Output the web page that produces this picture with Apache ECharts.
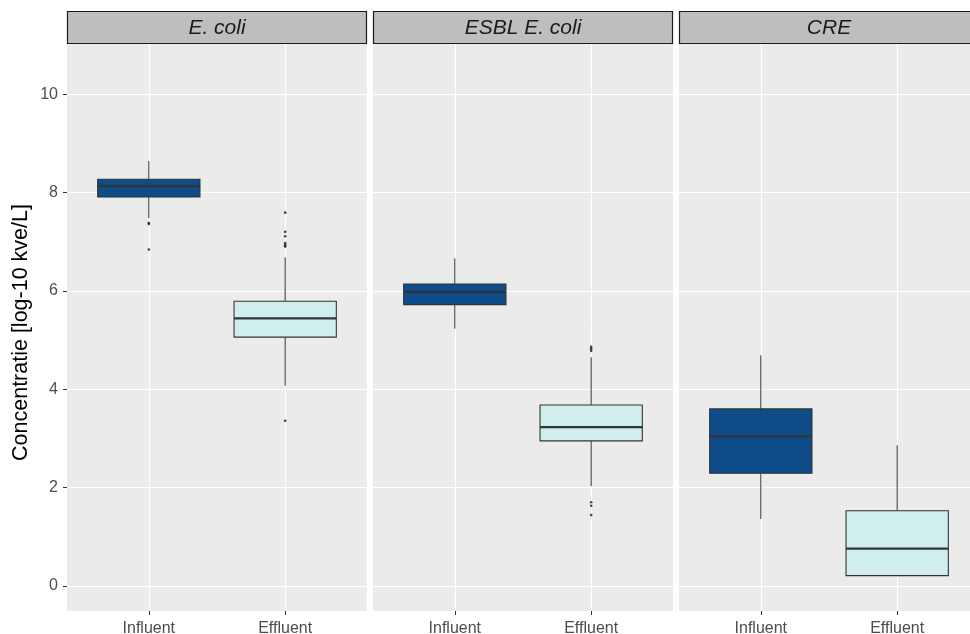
<!DOCTYPE html>
<html><head><meta charset="utf-8">
<script src="https://cdn.jsdelivr.net/npm/echarts@6/dist/echarts.min.js"></script>
<style>html,body{margin:0;padding:0;background:#fff}#c{width:970px;height:634px}</style>
</head><body><div id="c"></div>
<script>
const categories = ['Influent', 'Effluent'];
const panels = ['E. coli', 'ESBL E. coli', 'CRE'];
const yTicks = [0, 2, 4, 6, 8, 10];
const yTitle = 'Concentratie [log-10 kve/L]';

// [lower whisker, Q1, median, Q3, upper whisker]
const ecoliInfluent = [7.48, 7.91, 8.13, 8.27, 8.64];
const ecoliEffluent = [4.07, 5.06, 5.44, 5.79, 6.68];
const esblInfluent = [5.23, 5.72, 5.98, 6.14, 6.66];
const esblEffluent = [2.03, 2.95, 3.23, 3.68, 4.65];
const creInfluent = [1.36, 2.29, 3.04, 3.60, 4.69];
const creEffluent = [0.21, 0.21, 0.76, 1.53, 2.86];

// outliers
const ecoliInfluentOut = [7.38, 7.36, 6.84];
const ecoliEffluentOut = [7.59, 7.20, 7.11, 6.97, 6.93, 6.90, 3.36];
const esblInfluentOut = [];
const esblEffluentOut = [4.86, 4.82, 4.78, 1.70, 1.63, 1.44];
const creInfluentOut = [];
const creEffluentOut = [];

const boxStats = [[ecoliInfluent, ecoliEffluent], [esblInfluent, esblEffluent], [creInfluent, creEffluent]];
const outliers = [[ecoliInfluentOut, ecoliEffluentOut], [esblInfluentOut, esblEffluentOut], [creInfluentOut, creEffluentOut]];

const boxColors = ['#0F4C8A', '#D1EEEE'];
const panelLeft = [67, 373, 679];
const panelWidth = 300;
const panelTop = 44;
const panelHeight = 567;

const chart = echarts.init(document.getElementById('c'), null, {renderer: 'canvas'});

function renderBox(params, api) {
  const x = api.value(0);
  const lo = api.value(1), q1 = api.value(2), med = api.value(3), q3 = api.value(4), hi = api.value(5);
  const w = api.size([0.75, 0])[0];
  const pLo = api.coord([x, lo]), pQ1 = api.coord([x, q1]), pMed = api.coord([x, med]);
  const pQ3 = api.coord([x, q3]), pHi = api.coord([x, hi]);
  const fill = boxColors[Math.round(x) - 1];
  const stroke = '#333333';
  return {
    type: 'group',
    children: [
      {type: 'line', shape: {x1: pLo[0], y1: pLo[1], x2: pQ1[0], y2: pQ1[1]}, style: {stroke: stroke, lineWidth: 1}},
      {type: 'line', shape: {x1: pQ3[0], y1: pQ3[1], x2: pHi[0], y2: pHi[1]}, style: {stroke: stroke, lineWidth: 1}},
      {type: 'rect', shape: {x: pQ1[0] - w / 2, y: pQ3[1], width: w, height: pQ1[1] - pQ3[1]}, style: {fill: fill, stroke: stroke, lineWidth: 1.1}},
      {type: 'line', shape: {x1: pMed[0] - w / 2, y1: pMed[1], x2: pMed[0] + w / 2, y2: pMed[1]}, style: {stroke: stroke, lineWidth: 2.3}}
    ]
  };
}

const grids = [], xAxes = [], yAxes = [], series = [], graphics = [];
panels.forEach(function (name, i) {
  grids.push({left: panelLeft[i], top: panelTop, width: panelWidth, height: panelHeight,
    show: true, backgroundColor: '#EBEBEB', borderWidth: 0, containLabel: false, outerBoundsMode: 'none'});
  xAxes.push({
    gridIndex: i, type: 'value', min: 0.4, max: 2.6, position: 'bottom',
    axisLine: {show: false, onZero: false},
    axisTick: {show: true, customValues: [1, 2], length: 4, lineStyle: {color: '#333333', width: 1}},
    axisLabel: {customValues: [1, 2], formatter: function (v) { return categories[Math.round(v) - 1]; },
      color: '#4D4D4D', fontSize: 16, margin: 10},
    splitLine: {show: true, lineStyle: {color: '#FFFFFF', width: 1}}
  });
  yAxes.push({
    gridIndex: i, type: 'value', min: -0.51, max: 11.02,
    axisLine: {show: false, onZero: false},
    axisTick: {show: i === 0, customValues: yTicks, length: 4, lineStyle: {color: '#333333', width: 1}},
    axisLabel: {show: i === 0, customValues: yTicks, color: '#4D4D4D', fontSize: 16, margin: 9},
    splitLine: {show: true, lineStyle: {color: '#FFFFFF', width: 1.2}},
    name: i === 0 ? yTitle : '', nameLocation: 'middle', nameGap: 35,
    nameTextStyle: {fontSize: 21.5, color: '#000000', padding: [0, 10, 0, 0]}
  });
  series.push({
    type: 'custom', xAxisIndex: i, yAxisIndex: i,
    encode: {x: 0, y: [1, 2, 3, 4, 5]},
    data: boxStats[i].map(function (s, k) { return [k + 1].concat(s); }),
    renderItem: renderBox, z: 2
  });
  const pts = [];
  outliers[i].forEach(function (arr, k) { arr.forEach(function (v) { pts.push([k + 1, v]); }); });
  series.push({
    type: 'scatter', xAxisIndex: i, yAxisIndex: i, data: pts,
    symbol: 'circle', symbolSize: 2.6, itemStyle: {color: '#1A1A1A'}, z: 3, silent: true
  });
  graphics.push({
    type: 'group', children: [
      {type: 'rect', shape: {x: panelLeft[i] + 0.5, y: 11.5, width: panelWidth - 1, height: 32},
        style: {fill: '#BEBEBE', stroke: '#1A1A1A', lineWidth: 1.2}},
      {type: 'text', x: panelLeft[i] + panelWidth / 2, y: 28,
        style: {text: name, align: 'center', verticalAlign: 'middle', fontSize: 21, fontStyle: 'italic',
          fontFamily: 'Liberation Sans, Arial, sans-serif', fill: '#1A1A1A'}}
    ]
  });
});

chart.setOption({
  animation: false,
  backgroundColor: '#FFFFFF',
  textStyle: {fontFamily: 'Liberation Sans, Arial, sans-serif'},
  grid: grids, xAxis: xAxes, yAxis: yAxes, series: series, graphic: graphics
});
</script></body></html>
